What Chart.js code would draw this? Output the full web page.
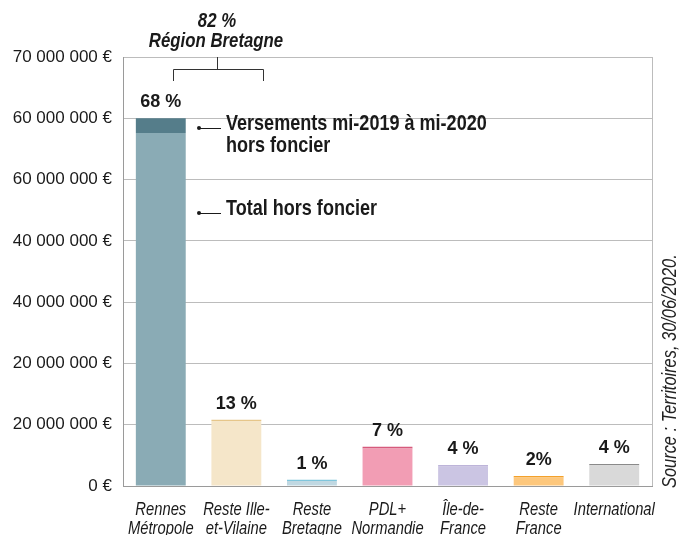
<!DOCTYPE html>
<html>
<head>
<meta charset="utf-8">
<script src="https://cdn.jsdelivr.net/npm/chart.js@4/dist/chart.umd.min.js"></script>
<style>
  html, body { margin: 0; padding: 0; background: #ffffff; }
</style>
</head>
<body>
<canvas id="chart" width="680" height="535"></canvas>
<script>
// ─── Data ─────────────────────────────────────────────────────────────────────

const categories = [
  ['Rennes', 'Métropole'],
  ['Reste Ille-', 'et-Vilaine'],
  ['Reste', 'Bretagne'],
  ['PDL+', 'Normandie'],
  ['Île-de-', 'France'],
  ['Reste', 'France'],
  ['International'],
];
const totalHorsFoncier = [57600000, 10600000, 800000, 6100000, 3200000, 1400000, 3400000];
const versements = [2400000, 200000, 200000, 300000, 200000, 250000, 200000];
const shareLabels = ['68 %', '13 %', '1 %', '7 %', '4 %', '2%', '4 %'];
const yTickLabels = ['0 €', '20 000 000 €', '20 000 000 €', '40 000 000 €',
  '40 000 000 €', '60 000 000 €', '60 000 000 €', '70 000 000 €'];
const bracketLabel = ['82 %', 'Région Bretagne'];
const noteVersements = ['Versements mi-2019 à mi-2020', 'hors foncier'];
const noteTotal = 'Total hors foncier';
const sourceText = 'Source : Territoires, 30/06/2020.';

// ─── Styles ───────────────────────────────────────────────────────────────────

const LIGHT = ['#8aabb5', '#f5e6c9', '#c0d8e2', '#f29db4', '#cbc5e3', '#fdc77c', '#d9d9d9'];
const DARK = ['#557d8a', '#e6c68a', '#80c6dc', '#d65a7c', '#a79bcc', '#f3a12b', '#8a8a8a'];
const FAMILY = '"Liberation Sans", Arial, sans-serif';
const INK = '#1a1a1a';

// no condensed face installed: squeeze Liberation Sans horizontally
function narrowText(ctx, text, x, y, font, align, sx) {
  ctx.save();
  ctx.font = font;
  ctx.textAlign = align || 'left';
  ctx.textBaseline = 'alphabetic';
  ctx.translate(x, y);
  ctx.scale(sx || 0.82, 1);
  ctx.fillText(text, 0, 0);
  ctx.restore();
}

// ─── Overlay: labels, bracket, notes, source ─────────────────────────────────

const overlay = {
  id: 'overlay',
  afterDraw(chart) {
    const ctx = chart.ctx;
    const area = chart.chartArea;
    const xs = chart.scales.x;
    ctx.save();
    ctx.fillStyle = INK;

    // right border of the plot
    ctx.strokeStyle = '#bcbcbc';
    ctx.lineWidth = 1;
    ctx.beginPath();
    ctx.moveTo(Math.round(area.right) + 0.5, area.top);
    ctx.lineTo(Math.round(area.right) + 0.5, area.bottom);
    ctx.stroke();

    // category labels under the axis
    categories.forEach((lines, i) => {
      const x = xs.getPixelForTick(i);
      lines.forEach((t, k) => {
        narrowText(ctx, t, x, area.bottom + 29 + k * 19, 'italic 18px ' + FAMILY, 'center');
      });
    });

    // share labels above bars
    const top = chart.getDatasetMeta(1).data;
    ctx.font = 'bold 18px ' + FAMILY;
    ctx.textAlign = 'center';
    ctx.textBaseline = 'alphabetic';
    top.forEach((bar, i) => {
      ctx.fillText(shareLabels[i], bar.x, bar.y - 11);
    });

    // bracket "Région Bretagne"
    ctx.strokeStyle = '#333333';
    ctx.beginPath();
    ctx.moveTo(173.5, 81);
    ctx.lineTo(173.5, 69.5);
    ctx.lineTo(263.5, 69.5);
    ctx.lineTo(263.5, 81);
    ctx.moveTo(217.5, 57);
    ctx.lineTo(217.5, 69.5);
    ctx.stroke();
    narrowText(ctx, bracketLabel[0], 217, 27, 'italic bold 21px ' + FAMILY, 'center', 0.8);
    narrowText(ctx, bracketLabel[1], 216, 47, 'italic bold 21px ' + FAMILY, 'center', 0.8);

    // notes with leaders
    ctx.strokeStyle = INK;
    [[128, noteVersements, 130], [213, [noteTotal], 215]].forEach(([dy, lines, by]) => {
      ctx.beginPath();
      ctx.arc(199, dy, 2, 0, Math.PI * 2);
      ctx.fill();
      ctx.beginPath();
      ctx.moveTo(199, dy + 0.5);
      ctx.lineTo(221, dy + 0.5);
      ctx.stroke();
      lines.forEach((t, k) => narrowText(ctx, t, 226, by + k * 22, 'bold 22px ' + FAMILY));
    });

    // source, rotated
    ctx.translate(676, 488);
    ctx.rotate(-Math.PI / 2);
    ctx.fillStyle = '#222222';
    narrowText(ctx, sourceText, 0, 0, 'italic 20px ' + FAMILY);

    ctx.restore();
  },
};

// ─── Chart ────────────────────────────────────────────────────────────────────

new Chart(document.getElementById('chart').getContext('2d'), {
  type: 'bar',
  data: {
    labels: categories,
    datasets: [
      { label: noteTotal, data: totalHorsFoncier, backgroundColor: LIGHT },
      { label: noteVersements.join(' '), data: versements, backgroundColor: DARK },
    ],
  },
  options: {
    animation: false,
    responsive: false,
    devicePixelRatio: 1,
    barPercentage: 0.66,
    categoryPercentage: 1,
    layout: { padding: { top: 57, right: 28, left: 0, bottom: 0 } },
    plugins: {
      legend: { display: false },
      tooltip: { enabled: false },
    },
    scales: {
      x: {
        stacked: true,
        grid: { display: false, drawTicks: false },
        border: { display: true, color: '#9a9a9a' },
        ticks: { display: false },
        afterFit(s) { s.height = 49; },
      },
      y: {
        stacked: true,
        min: 0,
        max: 70000000,
        grid: { color: '#bcbcbc', drawTicks: false },
        border: { display: true, color: '#9a9a9a' },
        ticks: {
          stepSize: 10000000,
          color: INK,
          padding: 11,
          font: { family: FAMILY, size: 17 },
          callback: (v, i) => yTickLabels[i],
        },
        afterFit(s) { s.width = 123; },
      },
    },
  },
  plugins: [overlay],
});
</script>
</body>
</html>
